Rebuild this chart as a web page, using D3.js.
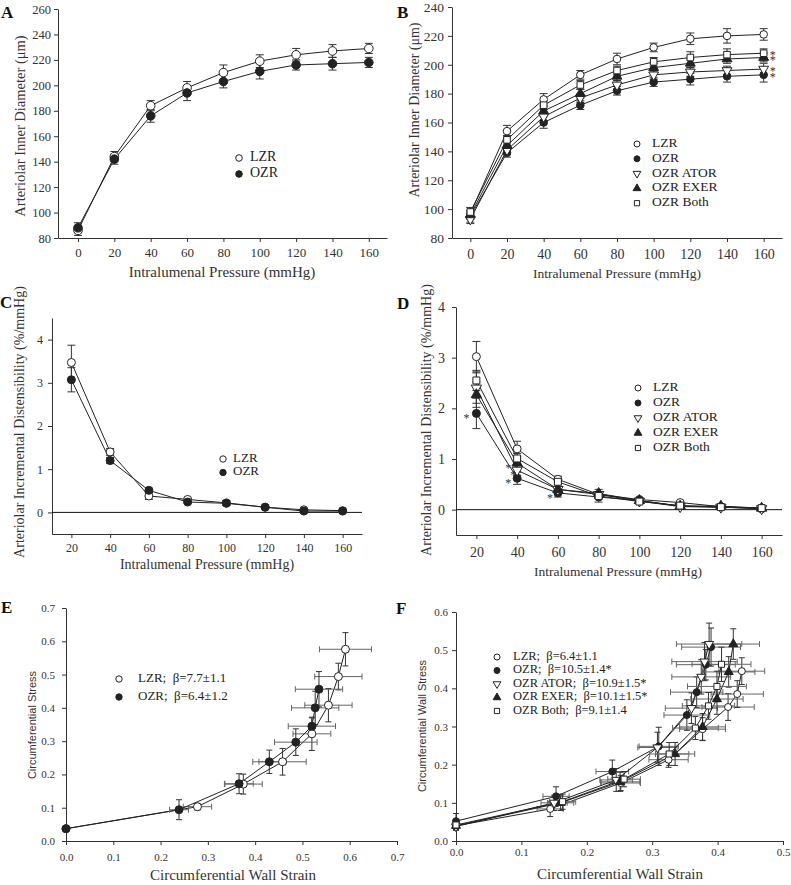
<!DOCTYPE html>
<html><head><meta charset="utf-8">
<script src="https://cdn.jsdelivr.net/npm/d3@7"></script>
<style>body{margin:0;background:#fff}svg{display:block}</style>
</head><body>
<svg id="c" width="791" height="885"></svg>
<script>
// ---------------- DATA ----------------
const pressuresAB = [0,20,40,60,80,100,120,140,160];
const pressuresCD = [20,40,60,80,100,120,140,160];
const seriesNames = ["LZR","OZR","OZR ATOR","OZR EXER","OZR Both"];

// Panel A: inner diameter (µm)
const aLZR    = [86,144,184,198,210,219,224,227,229];
const aLZRerr = [4,4,4,5,6,5,5,5,4];
const aOZR    = [88,142,176,194,203,211,216,217,218];
const aOZRerr = [4,4,5,6,5,6,4,5,4];

// Panel B: inner diameter (µm)
const bLZR  = [97,154,176,193,204,212,218,220,221];
const bOZR  = [95,139,160,172,182,188,190,192,193];
const bATOR = [93,141,164,177,186,193,195,196,197];
const bEXER = [96,144,168,180,192,198,201,204,205];
const bBoth = [98,148,172,186,196,202,205,207,208];
const bLZRerr  = [4,4,4,3,4,3,4,5,4];
const bOZRerr  = [4,3,4,3,3,3,4,4,5];
const bATORerr = [3,3,3,3,3,3,3,3,4];
const bEXERerr = [3,3,3,3,3,3,3,3,3];
const bBothErr = [3,3,3,3,3,3,4,4,3];

// Panel C: incremental distensibility (%/mmHg)
const cLZR    = [3.47,1.40,0.38,0.30,0.22,0.12,0.06,0.04];
const cLZRerr = [0.40,0.08,0.08,0.03,0.05,0.03,0.02,0.02];
const cOZR    = [3.07,1.20,0.51,0.24,0.21,0.12,0.03,0.03];
const cOZRerr = [0.28,0.07,0.05,0.03,0.05,0.03,0.02,0.02];

// Panel D: incremental distensibility (%/mmHg)
const dLZR  = [3.02,1.20,0.60,0.30,0.20,0.14,0.06,0.03];
const dOZR  = [1.90,0.62,0.33,0.25,0.18,0.07,0.05,0.02];
const dATOR = [2.40,0.78,0.40,0.30,0.17,0.06,0.05,0.02];
const dEXER = [2.27,0.92,0.40,0.32,0.18,0.07,0.07,0.03];
const dBoth = [2.55,1.01,0.55,0.27,0.16,0.08,0.05,0.03];
const dLZRerr  = [0.30,0.15,0.06,0.05,0.03,0.03,0.02,0.02];
const dOZRerr  = [0.30,0.12,0.08,0.10,0.03,0.03,0.03,0.02];
const dATORerr = [0.30,0.10,0.05,0.05,0.03,0.03,0.03,0.02];
const dEXERerr = [0.25,0.10,0.05,0.08,0.03,0.03,0.03,0.02];
const dBothErr = [0.20,0.10,0.06,0.05,0.03,0.03,0.02,0.02];

// Panel E: stress vs strain
const eLZRstrain = [0.0,0.278,0.375,0.458,0.520,0.555,0.576,0.591];
const eLZRstress = [0.037,0.103,0.171,0.238,0.322,0.408,0.494,0.576];
const eLZRxErr   = [0,0.03,0.04,0.05,0.04,0.05,0.05,0.055];
const eLZRyErr   = [0,0.01,0.03,0.04,0.05,0.05,0.04,0.05];
const eOZRstrain = [0.0,0.239,0.366,0.430,0.486,0.520,0.527,0.535];
const eOZRstress = [0.037,0.094,0.172,0.238,0.297,0.345,0.400,0.456];
const eOZRxErr   = [0,0.02,0.03,0.035,0.045,0.05,0.05,0.05];
const eOZRyErr   = [0,0.03,0.03,0.035,0.04,0.025,0.05,0.053];
const eLegend = ["LZR;\u00a0 \u03b2=7.7\u00b11.1","OZR;\u00a0 \u03b2=6.4\u00b11.2"];

// Panel F: stress vs strain
const fLZRstrain  = [0.0,0.144,0.252,0.325,0.377,0.416,0.430,0.437];
const fLZRstress  = [0.040,0.084,0.152,0.213,0.293,0.351,0.385,0.445];
const fOZRstrain  = [0.0,0.153,0.239,0.310,0.353,0.368,0.382,0.390];
const fOZRstress  = [0.052,0.117,0.182,0.248,0.330,0.390,0.462,0.508];
const fATORstrain = [0.0,0.150,0.245,0.308,0.360,0.375,0.380,0.387];
const fATORstress = [0.038,0.100,0.160,0.245,0.348,0.430,0.470,0.516];
const fEXERstrain = [0.0,0.160,0.251,0.335,0.377,0.399,0.417,0.424];
const fEXERstress = [0.040,0.100,0.155,0.228,0.299,0.372,0.443,0.516];
const fBothStrain = [0.0,0.163,0.257,0.326,0.366,0.386,0.399,0.406];
const fBothStress = [0.042,0.103,0.162,0.228,0.296,0.354,0.405,0.463];
const fLZRxErr  = [0,0.02,0.03,0.03,0.035,0.04,0.04,0.035];
const fLZRyErr  = [0.01,0.02,0.02,0.02,0.03,0.035,0.035,0.035];
const fOZRxErr  = [0,0.02,0.025,0.03,0.035,0.04,0.045,0.045];
const fOZRyErr  = [0.02,0.025,0.03,0.05,0.04,0.04,0.04,0.05];
const fATORxErr = [0,0.02,0.025,0.03,0.04,0.045,0.05,0.05];
const fATORyErr = [0.01,0.02,0.03,0.04,0.04,0.045,0.05,0.055];
const fEXERxErr = [0,0.02,0.03,0.03,0.035,0.04,0.04,0.04];
const fEXERyErr = [0.01,0.02,0.025,0.03,0.035,0.04,0.04,0.04];
const fBothXErr = [0,0.02,0.025,0.03,0.035,0.04,0.045,0.045];
const fBothYErr = [0.01,0.02,0.02,0.03,0.03,0.035,0.04,0.045];
const fLegend = ["LZR;\u00a0 \u03b2=6.4\u00b11.1","OZR;\u00a0 \u03b2=10.5\u00b11.4*","OZR ATOR;\u00a0 \u03b2=10.9\u00b11.5*","OZR EXER;\u00a0 \u03b2=10.1\u00b11.5*","OZR Both;\u00a0 \u03b2=9.1\u00b11.4"];

// Tick values
const ticksPressureAB = [0,20,40,60,80,100,120,140,160];
const ticksPressureCD = [20,40,60,80,100,120,140,160];
const ticksDiamA = [80,100,120,140,160,180,200,220,240,260];
const ticksDiamB = [80,100,120,140,160,180,200,220,240];
const ticksDist  = [0,1,2,3,4];
const ticksStrainE = [0,0.1,0.2,0.3,0.4,0.5,0.6,0.7];
const ticksStressE = [0,0.1,0.2,0.3,0.4,0.5,0.6,0.7];
const ticksStrainF = [0,0.1,0.2,0.3,0.4,0.5];
const ticksStressF = [0,0.1,0.2,0.3,0.4,0.5,0.6];

// Significance asterisks, grouped: each group = list of [series index, point index, horizontal offset px]
const bStarGroups = [[[4,8,9],[3,8,9],[2,8,9],[1,8,9]]];
const dStarGroups = [[[1,0,-10]],[[3,1,-9],[2,1,-4],[1,1,-9]],[[1,2,-8]]];

// ---------------- DRAWING ----------------
const svg = d3.select("#c");
const SERIF = "'Liberation Serif','Times New Roman',serif";
const SANS = "'Liberation Sans',Arial,sans-serif";
const INK = "#222";
const symbolKinds = ["circleOpen","circleFilled","triDownOpen","triUpFilled","squareOpen"];

function sym(g, kind, cx, cy, r) {
  let type = d3.symbolCircle, size = Math.PI*r*r, rot = 0, fill = "#fff";
  if (kind === "circleFilled") fill = INK;
  if (kind === "triDownOpen") { type = d3.symbolTriangle; size = r*r*2.9; rot = 180; }
  if (kind === "triUpFilled") { type = d3.symbolTriangle; size = r*r*2.9; fill = INK; }
  if (kind === "squareOpen") { type = d3.symbolSquare; size = r*r*3.0; }
  g.append("path").attr("d", d3.symbol().type(type).size(size)())
    .attr("transform", `translate(${cx},${cy}) rotate(${rot})`)
    .attr("fill", fill).attr("stroke", INK).attr("stroke-width", 1);
}

function panel(c) {
  const x = d3.scaleLinear().domain(c.xd).range(c.xr);
  const y = d3.scaleLinear().domain(c.yd).range(c.yr);
  const g = svg.append("g");
  const fmtX = c.xf || (d=>d), fmtY = c.yf || (d=>d);
  const xa = g.append("g").attr("transform", `translate(0,${c.yr[0]})`)
    .call(d3.axisBottom(x).tickValues(c.xt).tickSize(4).tickSizeOuter(0).tickPadding(c.xpad).tickFormat(fmtX));
  const ya = g.append("g").attr("transform", `translate(${c.xr[0]},0)`)
    .call(d3.axisLeft(y).tickValues(c.yt).tickSize(4).tickSizeOuter(0).tickPadding(c.ypad).tickFormat(fmtY));
  [xa, ya].forEach(a => {
    a.selectAll("path,line").attr("stroke", "#333").attr("stroke-width", 1);
    a.selectAll("text").attr("fill", "#333").style("font-family", SERIF);
  });
  xa.selectAll("text").style("font-size", c.xfs + "px");
  ya.selectAll("text").style("font-size", c.yfs + "px");
  if (c.zero) {
    g.append("line").attr("x1", c.xr[0]).attr("x2", c.xr[1]).attr("y1", y(0)).attr("y2", y(0))
      .attr("stroke", "#111").attr("stroke-width", 1);
  }
  g.append("text").attr("x", c.xt_pos[0]).attr("y", c.xt_pos[1]).attr("text-anchor", "middle")
    .attr("dominant-baseline", "middle").style("font-family", SERIF).style("font-size", c.xtfs + "px")
    .attr("fill", "#333").text(c.xtitle);
  g.append("text").attr("transform", `translate(${c.yt_pos[0]},${c.yt_pos[1]}) rotate(-90)`)
    .attr("text-anchor", "middle").attr("dominant-baseline", "middle")
    .style("font-family", c.ytfont || SERIF).style("font-size", c.ytfs + "px")
    .attr("fill", "#333").text(c.ytitle);
  g.append("text").attr("x", c.lab[0]).attr("y", c.lab[1]).style("font-family", SERIF)
    .style("font-size", "17px").style("font-weight", "bold").attr("fill", "#111").text(c.label);
  return {g, x, y};
}

function drawSeries(p, xs, ys, yerr, xerr, cap) {
  const pts = xs.map((v,i)=>({x:v, y:ys[i], ye: yerr ? yerr[i] : 0, xe: xerr ? xerr[i] : 0}));
  p.g.append("path").datum(pts)
    .attr("d", d3.line().x(d=>p.x(d.x)).y(d=>p.y(d.y)))
    .attr("fill", "none").attr("stroke", INK).attr("stroke-width", 1);
  const eb = p.g.append("g");
  pts.forEach(d => {
    if (d.xe > 0) {
      const x1 = p.x(d.x - d.xe), x2 = p.x(d.x + d.xe), yy = p.y(d.y);
      eb.append("line").attr("x1", x1).attr("x2", x2).attr("y1", yy).attr("y2", yy).attr("stroke", "#666");
      [x1,x2].forEach(xx => eb.append("line").attr("x1", xx).attr("x2", xx).attr("y1", yy-cap).attr("y2", yy+cap).attr("stroke", "#666"));
    }
    if (d.ye > 0) {
      const y1 = p.y(d.y - d.ye), y2 = p.y(d.y + d.ye), xx = p.x(d.x);
      eb.append("line").attr("x1", xx).attr("x2", xx).attr("y1", y1).attr("y2", y2).attr("stroke", "#333");
      [y1,y2].forEach(yy => eb.append("line").attr("x1", xx-cap).attr("x2", xx+cap).attr("y1", yy).attr("y2", yy).attr("stroke", "#333"));
    }
  });
  return pts;
}
function drawMarkers(p, pts, kind, r) {
  const mg = p.g.append("g");
  pts.forEach(d => sym(mg, kind, p.x(d.x), p.y(d.y), r));
}
function legend(p, items, kinds, sx, tx, y0, dy, fs, r) {
  items.forEach((t,i) => {
    sym(p.g, kinds[i], sx, y0 + i*dy, r);
    p.g.append("text").attr("x", tx).attr("y", y0 + i*dy).attr("dominant-baseline", "middle")
      .style("font-family", SERIF).style("font-size", fs + "px").attr("fill", "#222").text(t);
  });
}
// one text element per group of stacked asterisks
function starGroup(p, positions) {
  const t = p.g.append("text").attr("text-anchor", "middle")
    .attr("font-family", "Liberation Serif").attr("font-size", "12px").attr("fill", "#333");
  positions.forEach(([px,py]) => t.append("tspan").attr("x", px).attr("y", py + 6).text("*"));
}

// ----- Panel A -----
const pA = panel({xd:[-11,170], xr:[58,387], yd:[80,260], yr:[238,9], xt:ticksPressureAB, yt:ticksDiamA,
  xpad:6, ypad:3, xfs:13, yfs:12.5, xtitle:"Intralumenal Pressure (mmHg)", xt_pos:[222,274], xtfs:15,
  ytitle:"Arteriolar Inner Diameter (\u03bcm)", yt_pos:[22,126], ytfs:14.5, label:"A", lab:[1,18]});
const aS = [[aLZR,aLZRerr],[aOZR,aOZRerr]].map(([v,e])=>drawSeries(pA, pressuresAB, v, e, null, 4));
aS.forEach((pts,i)=>drawMarkers(pA, pts, symbolKinds[i], 4.3));
legend(pA, seriesNames.slice(0,2), symbolKinds, 239, 250, 158, 16, 14, 3.3);

// ----- Panel B -----
const pB = panel({xd:[-10,170], xr:[452,782], yd:[80,240], yr:[238,7], xt:ticksPressureAB, yt:ticksDiamB,
  xpad:7, ypad:4, xfs:14, yfs:13.5, xtitle:"Intralumenal Pressure (mmHg)", xt_pos:[617,275], xtfs:13.5,
  ytitle:"Arteriolar Inner Diameter (\u03bcm)", yt_pos:[416,110], ytfs:14, label:"B", lab:[397,18]});
const bVals = [bLZR,bOZR,bATOR,bEXER,bBoth], bErrs = [bLZRerr,bOZRerr,bATORerr,bEXERerr,bBothErr];
const bS = bVals.map((v,i)=>drawSeries(pB, pressuresAB, v, bErrs[i], null, 4));
bS.forEach((pts,i)=>drawMarkers(pB, pts, symbolKinds[i], 3.8));
legend(pB, seriesNames, symbolKinds, 637, 652, 144, 14.8, 13.5, 3);
bStarGroups.forEach(grp => starGroup(pB, grp.map(([s,k,dx]) => [pB.x(pressuresAB[k]) + dx, pB.y(bVals[s][k])])));

// ----- Panel C -----
const pC = panel({xd:[10,170], xr:[52,362], yd:[-0.5,4.5], yr:[534,318], xt:ticksPressureCD, yt:ticksDist,
  xpad:5, ypad:5, xfs:12, yfs:12, zero:true, xtitle:"Intralumenal Pressure (mmHg)", xt_pos:[207,566], xtfs:14,
  ytitle:"Arteriolar Incremental Distensibility (%/mmHg)", yt_pos:[21,422], ytfs:14, label:"C", lab:[0,308]});
const cS = [[cLZR,cLZRerr],[cOZR,cOZRerr]].map(([v,e])=>drawSeries(pC, pressuresCD, v, e, null, 4));
cS.forEach((pts,i)=>drawMarkers(pC, pts, symbolKinds[i], 4));
legend(pC, seriesNames.slice(0,2), symbolKinds, 223, 233, 459, 13.5, 13, 3.2);

// ----- Panel D -----
const pD = panel({xd:[10,170], xr:[456,782], yd:[-0.5,4], yr:[535,307], xt:ticksPressureCD, yt:ticksDist,
  xpad:8, ypad:7, xfs:14, yfs:14, zero:true, xtitle:"Intralumenal Pressure (mmHg)", xt_pos:[618,573], xtfs:13.5,
  ytitle:"Arteriolar Incremental Distensibility (%/mmHg)", yt_pos:[428,420], ytfs:14, label:"D", lab:[397,309]});
const dVals = [dLZR,dOZR,dATOR,dEXER,dBoth], dErrs = [dLZRerr,dOZRerr,dATORerr,dEXERerr,dBothErr];
const dS = dVals.map((v,i)=>drawSeries(pD, pressuresCD, v, dErrs[i], null, 4));
dS.forEach((pts,i)=>drawMarkers(pD, pts, symbolKinds[i], 4));
legend(pD, seriesNames, symbolKinds, 638, 653, 388, 15, 13.5, 3);
dStarGroups.forEach(grp => starGroup(pD, grp.map(([s,k,dx]) => [pD.x(pressuresCD[k]) + dx, pD.y(dVals[s][k]) + 3])));

// ----- Panel E -----
const pE = panel({xd:[0,0.7], xr:[66,397], yd:[0,0.7], yr:[841,608], xt:ticksStrainE, yt:ticksStressE,
  xpad:8, ypad:7, xfs:11, yfs:11, xf:d3.format(".1f"), yf:d3.format(".1f"),
  xtitle:"Circumferential Wall Strain", xt_pos:[233,877], xtfs:15,
  ytitle:"Circumferential Stress", yt_pos:[33,725], ytfs:11, ytfont:SANS, label:"E", lab:[1,613]});
const eS = [
  drawSeries(pE, eLZRstrain, eLZRstress, eLZRyErr, eLZRxErr, 3),
  drawSeries(pE, eOZRstrain, eOZRstress, eOZRyErr, eOZRxErr, 3)];
eS.forEach((pts,i)=>drawMarkers(pE, pts, symbolKinds[i], 4));
legend(pE, eLegend, symbolKinds, 119, 138, 679, 18, 13, 3.2);

// ----- Panel F -----
const pF = panel({xd:[0,0.5], xr:[456,783], yd:[0,0.6], yr:[841,612], xt:ticksStrainF, yt:ticksStressF,
  xpad:3, ypad:4, xfs:11, yfs:11, xf:d3.format(".1f"), yf:d3.format(".1f"),
  xtitle:"Circumferential Wall Strain", xt_pos:[620,876], xtfs:15,
  ytitle:"Circumferential Wall Stress", yt_pos:[423,726], ytfs:11, ytfont:SANS, label:"F", lab:[396,614]});
const fX = [fLZRstrain,fOZRstrain,fATORstrain,fEXERstrain,fBothStrain];
const fY = [fLZRstress,fOZRstress,fATORstress,fEXERstress,fBothStress];
const fXE = [fLZRxErr,fOZRxErr,fATORxErr,fEXERxErr,fBothXErr];
const fYE = [fLZRyErr,fOZRyErr,fATORyErr,fEXERyErr,fBothYErr];
const fS = fX.map((xs,i)=>drawSeries(pF, xs, fY[i], fYE[i], fXE[i], 3));
fS.forEach((pts,i)=>drawMarkers(pF, pts, symbolKinds[i], 3.5));
legend(pF, fLegend, symbolKinds, 497, 513, 657, 13.5, 12.5, 3);
</script>
</body></html>
